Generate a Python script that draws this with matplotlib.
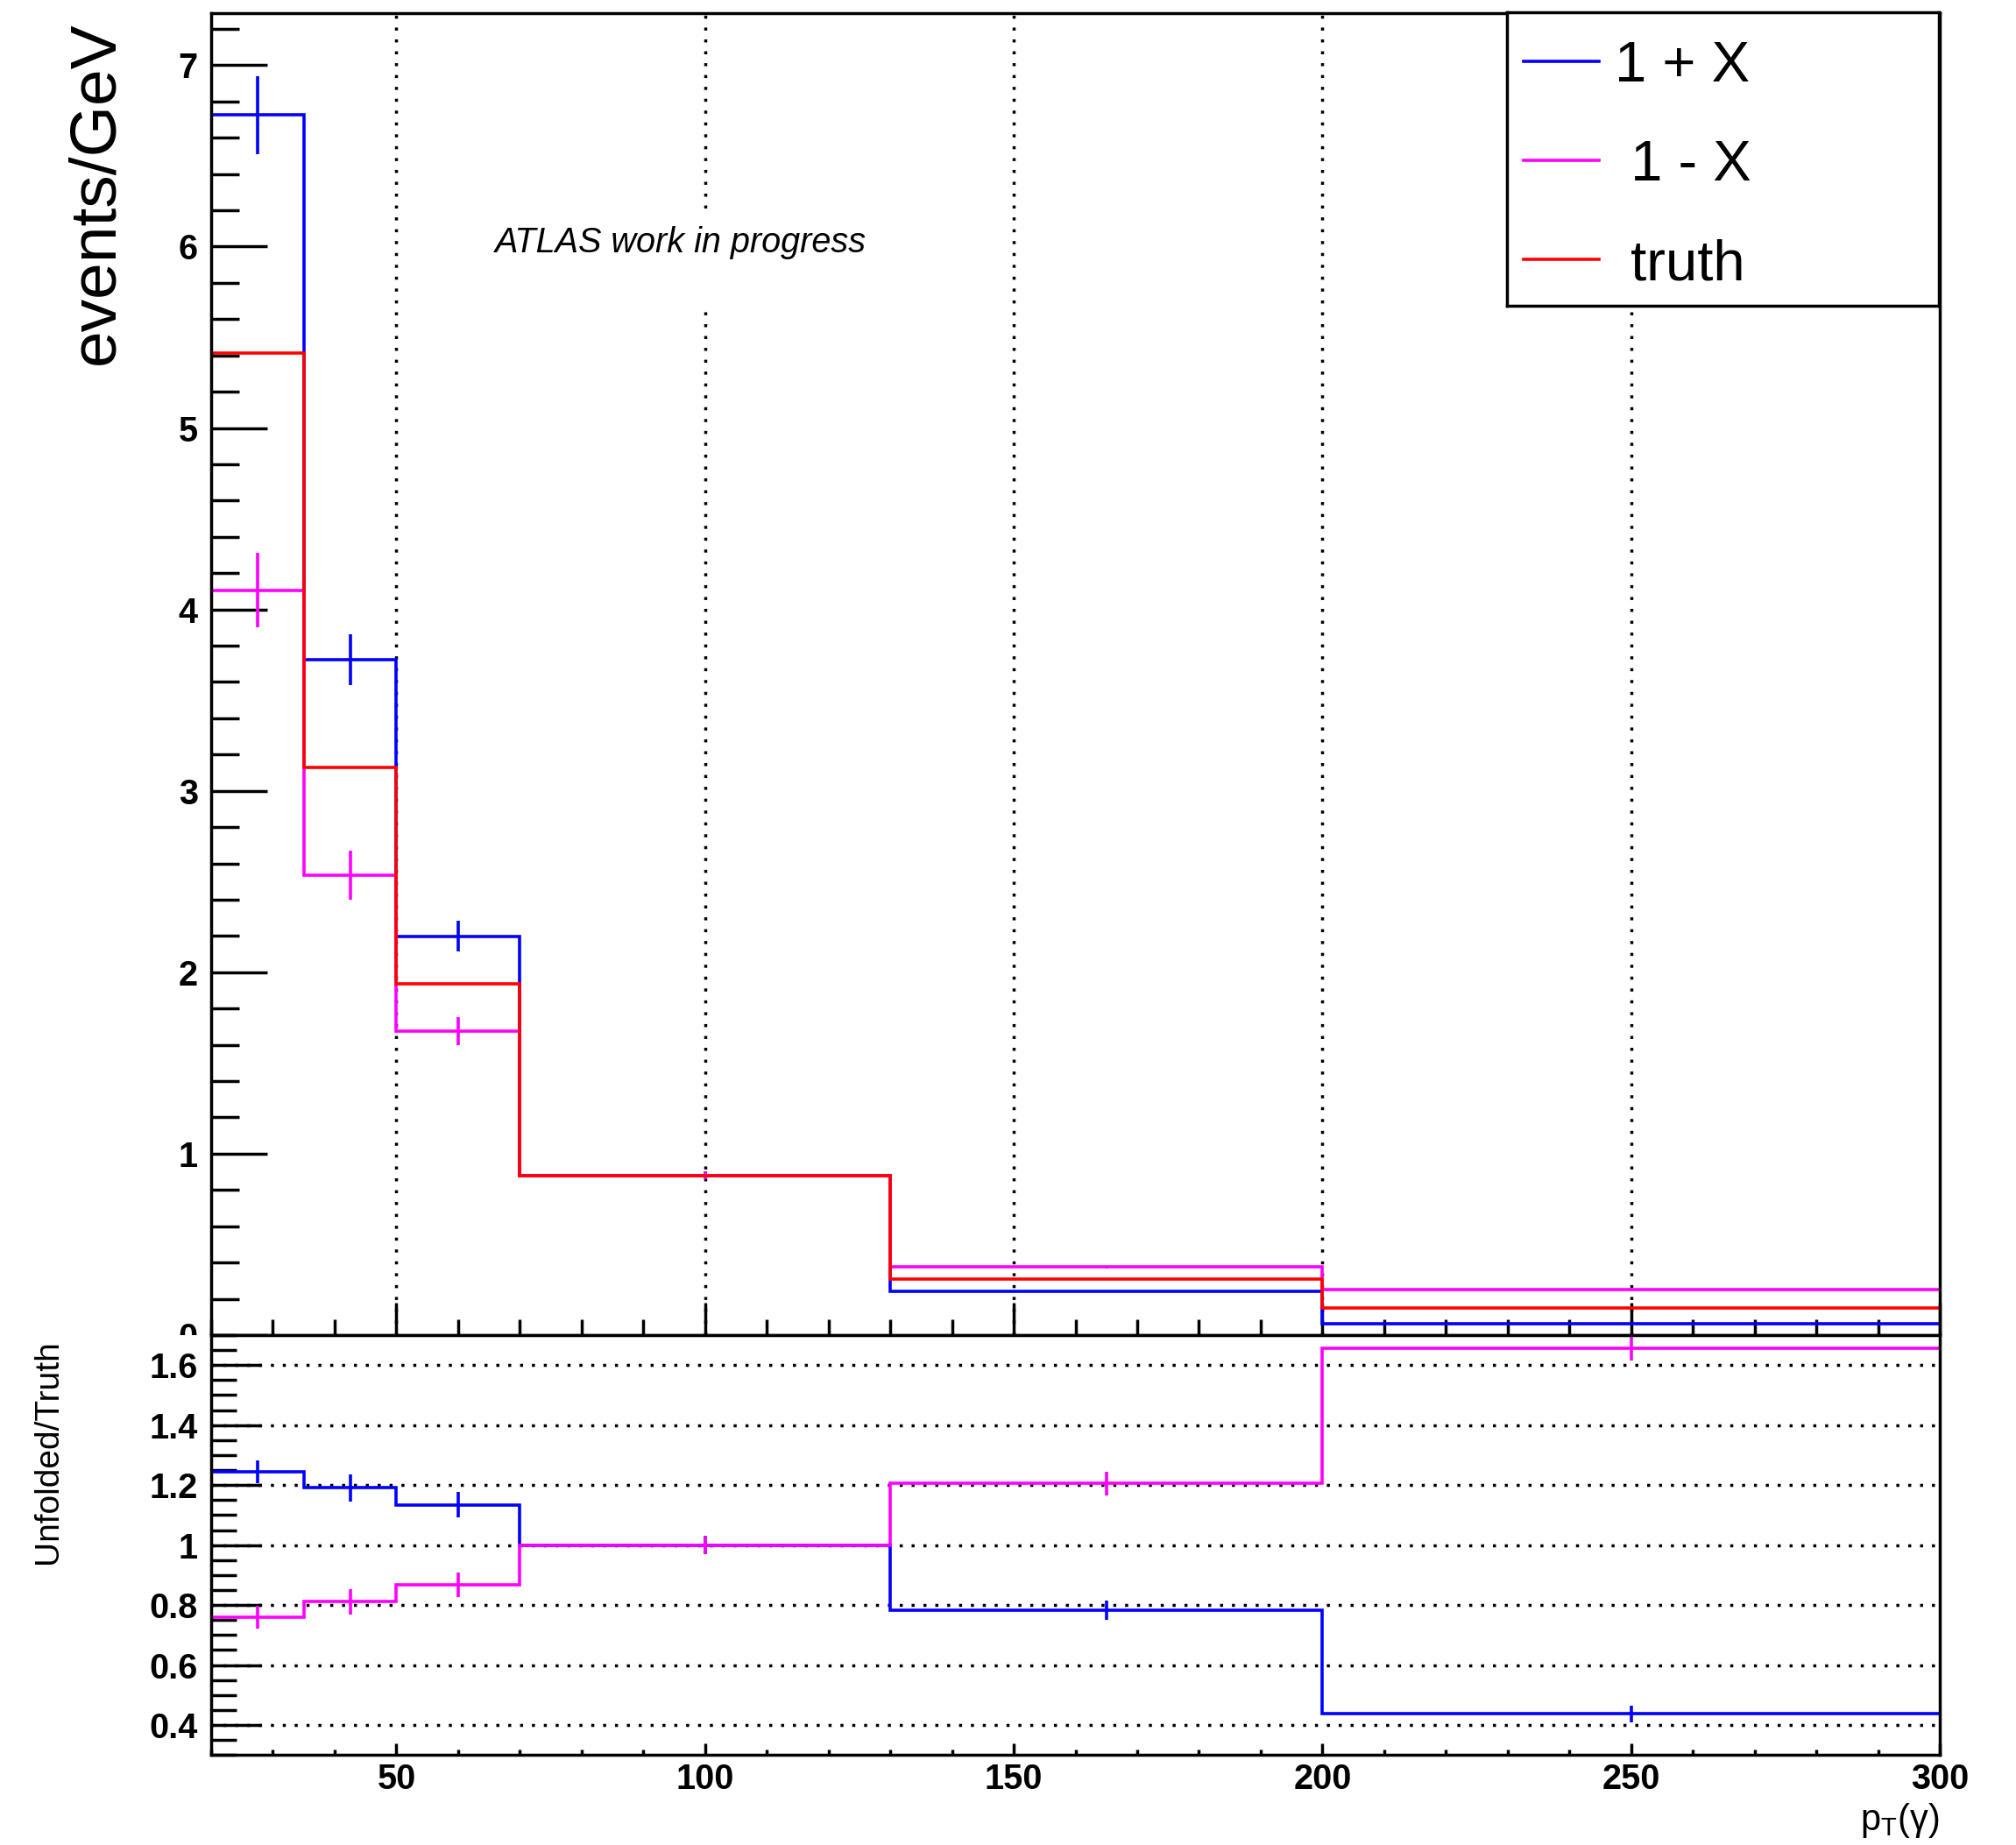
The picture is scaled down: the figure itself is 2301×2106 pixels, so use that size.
import numpy as np
import matplotlib
matplotlib.use('Agg')
import matplotlib.pyplot as plt
from matplotlib.ticker import MultipleLocator
from matplotlib.patches import Rectangle

plt.rcParams['font.family'] = ['Liberation Sans', 'DejaVu Sans']
plt.rcParams['mathtext.fontset'] = 'custom'
plt.rcParams['mathtext.rm'] = 'Liberation Sans'
plt.rcParams['mathtext.it'] = 'Liberation Sans:italic'
plt.rcParams['mathtext.bf'] = 'Liberation Sans:bold'

#binning in pT(gamma), GeV
edges = np.array([20., 35., 50., 70., 130., 200., 300.])
centers = 0.5*(edges[:-1] + edges[1:])

#unfolded spectra and truth, events/GeV
plus = np.array([6.725, 3.724, 2.199, 0.881, 0.241, 0.064])
plus_err = np.array([0.216, 0.141, 0.083, 0.023, 0.006, 0.003])
minus = np.array([4.106, 2.534, 1.677, 0.881, 0.375, 0.251])
minus_err = np.array([0.205, 0.136, 0.077, 0.023, 0.007, 0.004])
truth = np.array([5.414, 3.128, 1.936, 0.881, 0.311, 0.151])

#unfolded/truth
plus_ratio = np.array([1.244, 1.191, 1.134, 1.0, 0.783, 0.437])
plus_ratio_err = np.array([0.039, 0.045, 0.043, 0.030, 0.033, 0.027])
minus_ratio = np.array([0.759, 0.811, 0.867, 1.0, 1.205, 1.657])
minus_ratio_err = np.array([0.038, 0.043, 0.040, 0.030, 0.039, 0.043])

labels = ['1 + X', ' 1 - X', ' truth']
colors = ['#0000ff', '#ff00ff', '#ff0000']

xticks = [50, 100, 150, 200, 250, 300]
xticklabels = ['50', '100', '150', '200', '250', '300']
yticks_top = [0, 1, 2, 3, 4, 5, 6, 7]
yticks_rat = [0.4, 0.6, 0.8, 1.0, 1.2, 1.4, 1.6]
yticklabels_rat = ['0.4', '0.6', '0.8', '1', '1.2', '1.4', '1.6']

W, H = 2301, 2106
lw = 2.6
alw = 2.5
dots = (0, (1.0, 2.9))
tfs = 28.5   #tick label size

fig = plt.figure(figsize=(W/100, H/100), dpi=100)
ax1 = fig.add_axes([241/W, 1-1524/H, 1973/W, 1509.3/H], zorder=0)
ax2 = fig.add_axes([241/W, 1-2003.3/H, 1973/W, 479.3/H], zorder=1)

#white strip so the lower pad covers the clipped '0' label, like root
fig.add_artist(Rectangle((0, 0), 1, 1-1524/H, transform=fig.transFigure,
                         facecolor='white', edgecolor='none', zorder=0.5))

#upper pad
for x in xticks[:-1]:
    ax1.axvline(x, color='k', lw=alw, ls=dots, zorder=1)
ax1.add_patch(Rectangle((64, 5.66), 64, 0.53, facecolor='white', edgecolor='none', zorder=1.2))

ax1.stairs(plus, edges, baseline=None, color=colors[0], lw=lw, zorder=2)
ax1.vlines(centers, plus-plus_err, plus+plus_err, color=colors[0], lw=lw, zorder=2)
ax1.stairs(minus, edges, baseline=None, color=colors[1], lw=lw, zorder=2)
ax1.vlines(centers, minus-minus_err, minus+minus_err, color=colors[1], lw=lw, zorder=2)
ax1.stairs(truth, edges, baseline=None, color=colors[2], lw=lw, zorder=2)

ax1.text(66, 5.97, 'ATLAS work in progress', style='italic', fontsize=28.5,
         ha='left', va='baseline', zorder=3)

ax1.set_xlim(20, 300)
ax1.set_ylim(0, 7.288)
ax1.set_xticks(xticks)
ax1.xaxis.set_minor_locator(MultipleLocator(10))
ax1.set_yticks(yticks_top, [str(v) for v in yticks_top], fontweight='bold', fontsize=tfs)
ax1.yaxis.set_minor_locator(MultipleLocator(0.2))
ax1.tick_params(axis='x', which='major', direction='in', length=27, width=alw, labelbottom=False)
ax1.tick_params(axis='x', which='minor', direction='in', length=13, width=alw)
ax1.tick_params(axis='y', which='major', direction='in', length=46, width=alw, pad=11)
ax1.tick_params(axis='y', which='minor', direction='in', length=23, width=alw)
for s in ax1.spines.values():
    s.set_linewidth(alw)

#ratio pad
for y in yticks_rat:
    ax2.axhline(y, color='k', lw=alw, ls=dots, zorder=1)
ax2.stairs(plus_ratio, edges, baseline=None, color=colors[0], lw=lw, zorder=2)
ax2.vlines(centers, plus_ratio-plus_ratio_err, plus_ratio+plus_ratio_err, color=colors[0], lw=lw, zorder=2)
ax2.stairs(minus_ratio, edges, baseline=None, color=colors[1], lw=lw, zorder=2)
ax2.vlines(centers, minus_ratio-minus_ratio_err, minus_ratio+minus_ratio_err, color=colors[1], lw=lw, zorder=2)

ax2.set_xlim(20, 300)
ax2.set_ylim(0.3, 1.7)
ax2.set_xticks(xticks, xticklabels, fontweight='bold', fontsize=tfs)
ax2.xaxis.set_minor_locator(MultipleLocator(10))
ax2.set_yticks(yticks_rat, yticklabels_rat, fontweight='bold', fontsize=tfs)
ax2.yaxis.set_minor_locator(MultipleLocator(0.05))
ax2.tick_params(axis='x', which='major', direction='in', length=9.4, width=alw, pad=6)
ax2.tick_params(axis='x', which='minor', direction='in', length=4.3, width=alw)
ax2.tick_params(axis='y', which='major', direction='in', length=41, width=alw, pad=11)
ax2.tick_params(axis='y', which='minor', direction='in', length=21, width=alw)
for s in ax2.spines.values():
    s.set_linewidth(alw)

#axis titles
fig.text(129.5/W, 1-24/H, 'events/GeV', fontsize=54, rotation=90,
         rotation_mode='anchor', ha='right', va='baseline')
fig.text(65/W, 1-1529/H, 'Unfolded/Truth', fontsize=28, rotation=90,
         rotation_mode='anchor', ha='right', va='baseline')
fig.text(2213/W, 1-2089/H, r'p$_{\mathrm{T}}$(γ)', fontsize=30, ha='right', va='baseline')

#legend box
lax = fig.add_axes([1720/W, 1-349/H, 493/W, 334.6/H], zorder=2)
lax.set_xlim(0, 493)
lax.set_ylim(334.6, 0)
lax.set_xticks([])
lax.set_yticks([])
for s in lax.spines.values():
    s.set_linewidth(alw)
for i, (lab, c) in enumerate(zip(labels, colors)):
    ly = 55.7 + i*113
    lax.plot([19, 104.5], [ly, ly], color=c, lw=lw)
    lax.text(123, ly+23, lab, fontsize=47, ha='left', va='baseline')

fig.savefig('out.png', dpi=100)
